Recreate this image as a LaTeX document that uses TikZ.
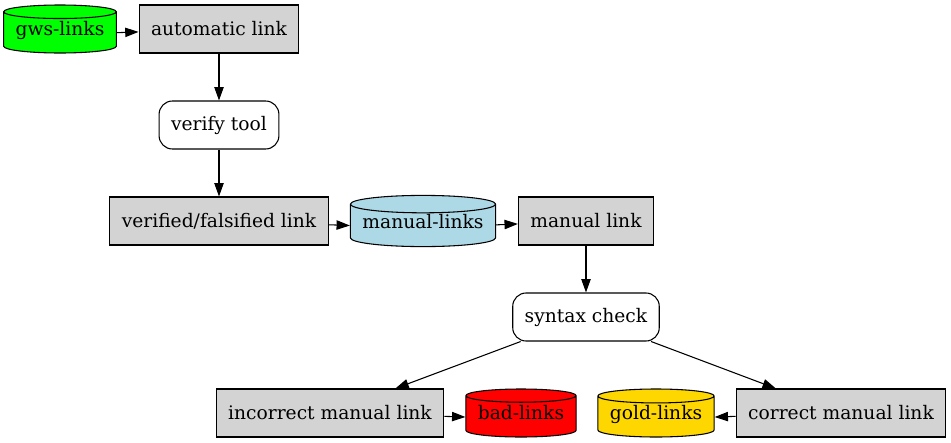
\documentclass[tikz,border=0pt]{standalone}
\usepackage{fontspec}
\setmainfont{DejaVu Serif}
\usetikzlibrary{arrows.meta,shapes.geometric}
\definecolor{boxgray}{HTML}{D3D3D3}
\definecolor{dbgreen}{HTML}{00FF00}
\definecolor{dbblue}{HTML}{ADD8E6}
\definecolor{dbgold}{HTML}{FFD700}

\begin{document}
\begin{tikzpicture}
[x=0.75pt,y=-0.75pt,font=\fontsize{14}{17}\selectfont,line width=0.8pt,
 box/.style={draw,fill=boxgray,minimum height=36pt,inner xsep=9pt},
 tool/.style={draw,fill=white,rounded corners=10pt,minimum height=36pt,inner xsep=9pt},
 db/.style={draw,fill=#1,cylinder,shape border rotate=90,aspect=0.12,anchor=shape center,
   minimum height=36pt,inner xsep=9pt,inner ysep=1pt,text height=10.5pt,text depth=9.5pt},
 >={Triangle[length=10pt,width=7pt]}]
\useasboundingbox (0,0) rectangle (951,443);
\node[db=dbgreen] (gws) at (60,29) {gws-links};
\node[box] (auto) at (219,29) {automatic link};
\node[tool] (verify) at (219,125) {verify tool};
\node[box] (vf) at (219,221) {verified/falsified link};
\node[db=dbblue] (mlinks) at (423,221) {manual-links};
\node[box] (manual) at (586,221) {manual link};
\node[tool] (syntax) at (586,317) {syntax check};
\node[box] (incorrect) at (330,413) {incorrect manual link};
\node[db=red] (bad) at (521,413) {bad-links};
\node[db=dbgold] (gold) at (656,413) {gold-links};
\node[box] (correct) at (841,413) {correct manual link};
\draw[->] (gws) -- (auto);
\draw[->] (auto) -- (verify);
\draw[->] (verify) -- (vf);
\draw[->] (vf) -- (mlinks);
\draw[->] (mlinks) -- (manual);
\draw[->] (manual) -- (syntax);
\draw[->] (syntax) -- (incorrect);
\draw[->] (syntax) -- (correct);
\draw[->] (incorrect) -- (bad);
\draw[->] (correct) -- (gold);
\end{tikzpicture}
\end{document}
